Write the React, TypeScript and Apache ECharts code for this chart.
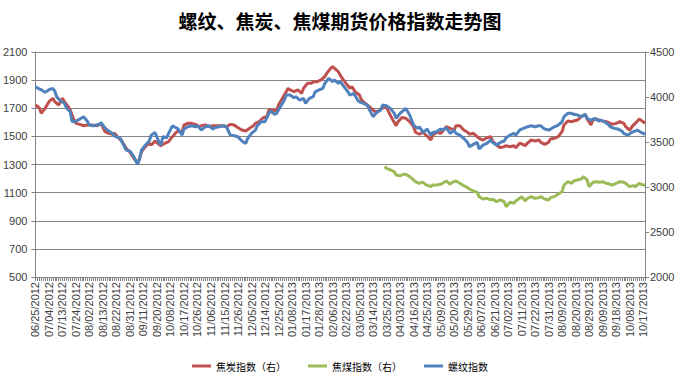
import React, { useEffect, useRef } from "react";
import * as echarts from "echarts";

// Trading calendar: weekdays from start to end, minus exchange holidays
const startDate = "2012-06-25";
const endDate = "2013-10-18";
const holidays = [
  "2012-10-01", "2012-10-02", "2012-10-03", "2012-10-04", "2012-10-05",
  "2013-01-01", "2013-01-02", "2013-01-03",
  "2013-02-11", "2013-02-12", "2013-02-13", "2013-02-14", "2013-02-15",
  "2013-04-04", "2013-04-05",
  "2013-04-29", "2013-04-30", "2013-05-01",
  "2013-06-10", "2013-06-11", "2013-06-12",
  "2013-09-19", "2013-09-20",
  "2013-10-01", "2013-10-02", "2013-10-03", "2013-10-04", "2013-10-07",
];

// [trading-day index, value]
const cokeIndex: [number, number][] = [
  [0, 3911], [2, 3881], [3, 3819], [5, 3875], [7, 3948], [9, 3986], [10, 3948], [12, 3911],
  [14, 3986], [15, 3948], [17, 3892], [18, 3856], [20, 3744], [21, 3707], [23, 3696], [25, 3681],
  [27, 3689], [29, 3689], [32, 3681], [34, 3707], [36, 3615], [38, 3597], [40, 3586], [41, 3597],
  [43, 3548], [45, 3504], [47, 3430], [49, 3386], [51, 3319], [53, 3263], [54, 3319], [55, 3393],
  [57, 3448], [59, 3486], [60, 3467], [62, 3510], [64, 3475], [65, 3459], [67, 3486], [69, 3504],
  [71, 3559], [73, 3608], [74, 3622], [76, 3608], [77, 3689], [79, 3707], [81, 3707], [83, 3696],
  [85, 3670], [86, 3681], [88, 3689], [90, 3670], [92, 3681], [94, 3681], [97, 3681], [99, 3670],
  [101, 3696], [103, 3689], [105, 3659], [107, 3633], [109, 3622], [111, 3652], [113, 3681], [114, 3707],
  [116, 3726], [118, 3770], [120, 3781], [121, 3856], [123, 3856], [125, 3845], [126, 3911], [127, 3948],
  [129, 4022], [131, 4097], [132, 4078], [134, 4059], [136, 4078], [138, 4041], [139, 4097], [141, 4152],
  [143, 4152], [144, 4170], [146, 4170], [148, 4189], [150, 4226], [151, 4263], [153, 4319], [154, 4337],
  [156, 4300], [157, 4281], [159, 4208], [161, 4152], [163, 4097], [164, 4115], [166, 4052], [168, 4022],
  [169, 3967], [171, 3930], [173, 3892], [175, 3856], [176, 3837], [178, 3844], [180, 3881], [182, 3892],
  [183, 3837], [185, 3756], [187, 3681], [188, 3726], [190, 3772], [192, 3763], [194, 3726], [196, 3670],
  [197, 3608], [199, 3586], [201, 3608], [202, 3586], [205, 3522], [206, 3578], [208, 3608], [210, 3597],
  [211, 3615], [213, 3670], [215, 3652], [217, 3633], [218, 3681], [220, 3681], [222, 3633], [224, 3608],
  [225, 3586], [227, 3597], [229, 3559], [230, 3541], [232, 3522], [234, 3548], [236, 3559], [237, 3511],
  [239, 3467], [241, 3437], [243, 3448], [244, 3459], [246, 3448], [248, 3459], [249, 3437], [251, 3486],
  [252, 3480], [254, 3459], [255, 3486], [257, 3522], [259, 3511], [261, 3522], [262, 3496], [264, 3474],
  [266, 3496], [267, 3533], [269, 3541], [271, 3559], [273, 3615], [274, 3689], [276, 3733], [278, 3726],
  [279, 3733], [281, 3744], [283, 3781], [285, 3807], [286, 3756], [288, 3689], [289, 3744], [291, 3756],
  [292, 3744], [294, 3733], [296, 3726], [298, 3707], [299, 3696], [301, 3707], [303, 3726], [305, 3707],
  [306, 3670], [308, 3633], [310, 3689], [311, 3707], [313, 3756], [315, 3726], [316, 3707],
];

const cokingCoalIndex: [number, number][] = [
  [181, 3226], [182, 3208], [184, 3189], [186, 3170], [187, 3133], [189, 3126], [191, 3141], [192, 3141],
  [194, 3115], [196, 3078], [197, 3059], [199, 3041], [201, 3052], [202, 3030], [205, 3004], [206, 3022],
  [208, 3022], [210, 3030], [211, 3041], [213, 3067], [215, 3030], [216, 3052], [218, 3067], [220, 3041],
  [222, 3015], [224, 2993], [225, 2978], [227, 2956], [229, 2941], [230, 2893], [232, 2867], [234, 2874],
  [236, 2856], [237, 2867], [239, 2837], [241, 2856], [243, 2837], [244, 2781], [246, 2830], [248, 2819],
  [249, 2845], [251, 2874], [252, 2893], [254, 2845], [255, 2874], [257, 2893], [259, 2874], [261, 2882],
  [262, 2893], [264, 2867], [266, 2856], [267, 2882], [269, 2893], [271, 2922], [273, 2948], [274, 3022],
  [276, 3059], [278, 3041], [279, 3067], [281, 3078], [283, 3089], [284, 3115], [286, 3078], [287, 3004],
  [289, 3052], [291, 3059], [292, 3052], [294, 3059], [296, 3041], [298, 3030], [299, 3022], [301, 3041],
  [303, 3059], [305, 3052], [306, 3041], [308, 3004], [310, 3015], [311, 3004], [313, 3041], [315, 3022],
  [316, 3022],
];

const rebarIndex: [number, number][] = [
  [0, 1853], [2, 1837], [3, 1832], [5, 1813], [7, 1832], [9, 1841], [10, 1822], [11, 1782],
  [13, 1751], [15, 1735], [16, 1704], [18, 1675], [19, 1604], [21, 1609], [23, 1623], [25, 1640],
  [27, 1604], [28, 1580], [30, 1575], [33, 1585], [34, 1597], [36, 1561], [38, 1538], [40, 1521],
  [41, 1502], [44, 1486], [45, 1457], [47, 1403], [49, 1395], [51, 1355], [53, 1301], [54, 1343],
  [55, 1403], [57, 1438], [59, 1467], [60, 1509], [62, 1528], [64, 1460], [65, 1438], [66, 1497],
  [68, 1490], [69, 1521], [71, 1575], [73, 1561], [74, 1552], [76, 1509], [77, 1552], [79, 1568],
  [81, 1575], [83, 1568], [84, 1575], [86, 1545], [88, 1568], [90, 1575], [92, 1552], [93, 1561],
  [95, 1568], [98, 1575], [99, 1568], [101, 1509], [103, 1504], [105, 1497], [106, 1481], [107, 1467],
  [109, 1450], [110, 1486], [112, 1521], [114, 1545], [115, 1575], [117, 1604], [119, 1604], [121, 1664],
  [122, 1680], [124, 1657], [125, 1664], [127, 1710], [129, 1758], [130, 1794], [132, 1794], [134, 1775],
  [135, 1782], [137, 1758], [139, 1770], [140, 1735], [142, 1770], [144, 1782], [145, 1817], [147, 1830],
  [149, 1841], [150, 1877], [152, 1913], [154, 1889], [155, 1901], [157, 1877], [158, 1889], [160, 1853],
  [162, 1817], [163, 1794], [165, 1806], [167, 1758], [168, 1746], [170, 1735], [172, 1723], [173, 1694],
  [175, 1640], [177, 1671], [179, 1687], [180, 1723], [182, 1718], [184, 1699], [186, 1664], [187, 1628],
  [189, 1664], [191, 1687], [192, 1699], [194, 1652], [196, 1580], [198, 1557], [199, 1568], [201, 1528],
  [203, 1552], [205, 1509], [206, 1528], [208, 1533], [210, 1552], [211, 1545], [213, 1561], [215, 1521],
  [217, 1545], [218, 1521], [220, 1509], [222, 1486], [224, 1457], [225, 1426], [227, 1443], [229, 1457],
  [230, 1410], [232, 1438], [234, 1450], [236, 1474], [237, 1457], [239, 1438], [241, 1457], [243, 1467],
  [244, 1490], [246, 1509], [248, 1521], [249, 1509], [251, 1545], [252, 1552], [253, 1557], [255, 1568],
  [257, 1575], [259, 1568], [261, 1575], [262, 1575], [264, 1552], [266, 1545], [267, 1552], [269, 1568],
  [271, 1580], [273, 1604], [274, 1640], [276, 1664], [278, 1664], [279, 1657], [281, 1652], [283, 1640],
  [285, 1657], [286, 1628], [288, 1616], [290, 1628], [292, 1609], [293, 1616], [295, 1604], [297, 1585],
  [298, 1568], [300, 1557], [302, 1552], [304, 1538], [305, 1521], [307, 1509], [309, 1528], [311, 1538],
  [312, 1545], [314, 1528], [316, 1514],
];

const seriesNames = ["焦炭指数（右）", "焦煤指数（右）", "螺纹指数"];
const seriesColors = ["#C0504D", "#9BBB59", "#4F81BD"];
const titleText = "螺纹、焦炭、焦煤期货价格指数走势图";

function pad(n: number): string {
  return n < 10 ? "0" + n : String(n);
}

function buildTradingDates(): string[] {
  const out: string[] = [];
  const hol = new Set(holidays);
  const [sy, sm, sd] = startDate.split("-").map(Number);
  const [ey, em, ed] = endDate.split("-").map(Number);
  let t = Date.UTC(sy, sm - 1, sd);
  const end = Date.UTC(ey, em - 1, ed);
  while (t <= end) {
    const d = new Date(t);
    const wd = d.getUTCDay();
    const y = d.getUTCFullYear();
    const m = d.getUTCMonth() + 1;
    const day = d.getUTCDate();
    const iso = `${y}-${pad(m)}-${pad(day)}`;
    if (wd !== 0 && wd !== 6 && !hol.has(iso)) {
      out.push(`${pad(m)}/${pad(day)}/${y}`);
    }
    t += 86400000;
  }
  return out;
}

export default function App() {
  const ref = useRef<HTMLDivElement>(null);

  useEffect(() => {
    if (!ref.current) return;
    const chart = echarts.init(ref.current, undefined, { renderer: "svg" });
    const dates = buildTradingDates();
    const axisColor = "#868686";
    const labelColor = "#404040";
    const font = "Arial, 'Liberation Sans', sans-serif";
    const cjk = "'Noto Sans CJK SC', sans-serif";
    const plain = (v: number) => String(v);

    chart.setOption({
      animation: false,
      backgroundColor: "#ffffff",
      title: {
        text: titleText,
        left: "center",
        top: 6,
        textStyle: { fontFamily: cjk, fontSize: 19, fontWeight: "bold", color: "#000000" },
      },
      legend: {
        bottom: 8,
        left: "center",
        icon: "rect",
        itemWidth: 19,
        itemHeight: 3,
        itemGap: 22,
        data: seriesNames,
        textStyle: { fontFamily: cjk, fontSize: 10, color: "#000000" },
      },
      grid: { left: 35, right: 35, top: 52, bottom: 107, containLabel: false },
      xAxis: {
        type: "category",
        data: dates,
        boundaryGap: false,
        axisLine: { show: true, lineStyle: { color: axisColor, width: 1 } },
        axisTick: { show: true, interval: 0, length: 4, lineStyle: { color: axisColor } },
        axisLabel: {
          interval: 6,
          rotate: 90,
          margin: 5,
          fontSize: 11,
          fontFamily: font,
          color: labelColor,
        },
        splitLine: { show: false },
      },
      yAxis: [
        {
          type: "value",
          min: 500,
          max: 2100,
          interval: 200,
          position: "left",
          axisLine: { show: true, lineStyle: { color: axisColor } },
          axisTick: { show: true, length: 4, lineStyle: { color: axisColor } },
          axisLabel: { fontSize: 11, fontFamily: font, color: labelColor, margin: 8, formatter: plain },
          splitLine: { show: true, lineStyle: { color: axisColor, width: 1 } },
        },
        {
          type: "value",
          min: 2000,
          max: 4500,
          interval: 500,
          position: "right",
          axisLine: { show: true, lineStyle: { color: axisColor } },
          axisTick: { show: true, length: 4, lineStyle: { color: axisColor } },
          axisLabel: { fontSize: 11, fontFamily: font, color: labelColor, margin: 5, formatter: plain },
          splitLine: { show: false },
        },
      ],
      series: [
        {
          name: seriesNames[0],
          type: "line",
          yAxisIndex: 1,
          data: cokeIndex,
          showSymbol: false,
          symbol: "none",
          lineStyle: { color: seriesColors[0], width: 3 },
          itemStyle: { color: seriesColors[0] },
          z: 2,
        },
        {
          name: seriesNames[1],
          type: "line",
          yAxisIndex: 1,
          data: cokingCoalIndex,
          showSymbol: false,
          symbol: "none",
          lineStyle: { color: seriesColors[1], width: 3 },
          itemStyle: { color: seriesColors[1] },
          z: 3,
        },
        {
          name: seriesNames[2],
          type: "line",
          yAxisIndex: 0,
          data: rebarIndex,
          showSymbol: false,
          symbol: "none",
          lineStyle: { color: seriesColors[2], width: 3 },
          itemStyle: { color: seriesColors[2] },
          z: 4,
        },
      ],
    });

    return () => chart.dispose();
  }, []);

  return (
    <div style={{ position: "absolute", left: 0, top: 0, width: 680, height: 384 }}>
      <div ref={ref} style={{ width: 680, height: 384 }} />
    </div>
  );
}
